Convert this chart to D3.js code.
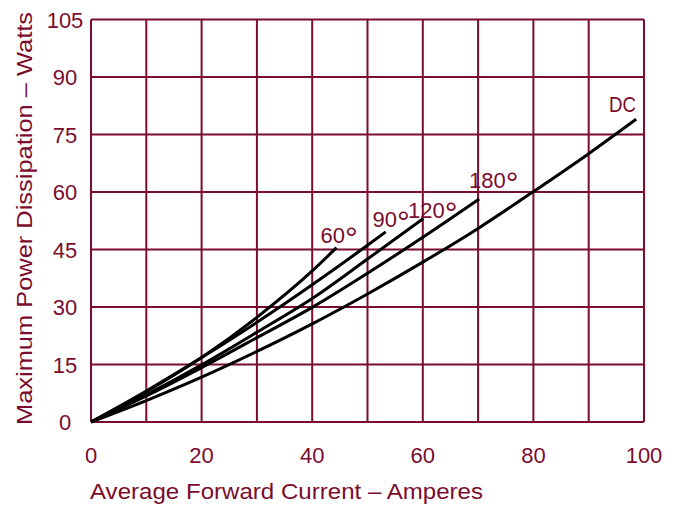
<!DOCTYPE html>
<html>
<head>
<meta charset="utf-8">
<script src="https://cdn.jsdelivr.net/npm/d3@7"></script>
<style>
  body { margin: 0; background: #ffffff; }
  svg { display: block; }
  text { font-family: "Liberation Sans", Arial, sans-serif; fill: #7b0c2d; }
</style>
</head>
<body>
<svg id="chart" width="683" height="505"></svg>
<script>
// Tick labels
const xTicks = [0, 20, 40, 60, 80, 100];
const yTicks = [0, 15, 30, 45, 60, 75, 90, 105];
const xGrid = [0, 10, 20, 30, 40, 50, 60, 70, 80, 90, 100];

// Power dissipation curves (amperes -> watts), one pair of arrays per conduction angle
const current60 = [0, 10, 20, 30, 40, 44.4];
const power60 = [0, 7.9, 16.8, 27.3, 39.4, 45.5];

const current90 = [0, 10, 20, 30, 40, 50, 53.3];
const power90 = [0, 8.1, 16.8, 26.0, 35.8, 46.1, 49.6];

const current120 = [0, 10, 20, 30, 40, 50, 60.1];
const power120 = [0, 7.1, 14.9, 23.4, 32.2, 42.5, 53.1];

const current180 = [0, 10, 20, 30, 40, 50, 60, 70.2];
const power180 = [0, 6.8, 14.2, 22.0, 29.9, 38.8, 48.2, 58.2];

const currentDC = [0, 10, 20, 30, 40, 50, 60, 70, 80, 90, 98.6];
const powerDC = [0, 5.6, 11.7, 18.4, 25.6, 33.4, 41.7, 50.5, 60.1, 70.0, 79.0];

const curveLabels = ["60°", "90°", "120°", "180°", "DC"];

const series = [
  { name: curveLabels[0], xs: current60, ys: power60 },
  { name: curveLabels[1], xs: current90, ys: power90 },
  { name: curveLabels[2], xs: current120, ys: power120 },
  { name: curveLabels[3], xs: current180, ys: power180 },
  { name: curveLabels[4], xs: currentDC, ys: powerDC }
];

const ink = "#7b0c2d";
const svg = d3.select("#chart");

const plotLeft = 91, plotRight = 644, plotTop = 19.5, plotBottom = 422;
const x = d3.scaleLinear().domain([0, 100]).range([plotLeft, plotRight]);
const y = d3.scaleLinear().domain([0, 105]).range([plotBottom, plotTop]);

// Grid
const grid = svg.append("g").attr("stroke", ink).attr("stroke-width", 2);
grid.selectAll("line.v").data(xGrid).join("line")
  .attr("class", "v")
  .attr("x1", d => x(d)).attr("x2", d => x(d))
  .attr("y1", y(0)).attr("y2", y(105));
grid.selectAll("line.h").data(yTicks).join("line")
  .attr("class", "h")
  .attr("x1", x(0)).attr("x2", x(100))
  .attr("y1", d => y(d)).attr("y2", d => y(d));

// Tick labels
svg.append("g").selectAll("text").data(xTicks).join("text")
  .attr("x", d => x(d)).attr("y", 462.5)
  .attr("text-anchor", "middle").attr("font-size", 22)
  .text(d => d);
svg.append("g").selectAll("text").data(yTicks).join("text")
  .attr("x", 65).attr("y", d => y(d) + 8)
  .attr("text-anchor", "middle").attr("font-size", 22)
  .text(d => d);

// Axis titles
svg.append("text")
  .attr("x", 90).attr("y", 499)
  .attr("font-size", 22)
  .attr("textLength", 393).attr("lengthAdjust", "spacingAndGlyphs")
  .text("Average Forward Current – Amperes");
svg.append("text")
  .attr("transform", "translate(32,425) rotate(-90)")
  .attr("font-size", 22)
  .attr("textLength", 413).attr("lengthAdjust", "spacingAndGlyphs")
  .text("Maximum Power Dissipation – Watts");

// Curves
const line = d3.line()
  .x(d => x(d[0]))
  .y(d => y(d[1]))
  .curve(d3.curveMonotoneX);

svg.append("g").selectAll("path").data(series).join("path")
  .attr("d", s => line(s.xs.map((v, i) => [v, s.ys[i]])))
  .attr("fill", "none")
  .attr("stroke", "#000")
  .attr("stroke-width", 3);

// Curve labels placed near the end of each curve; the degree mark is drawn larger
const labelPos = [
  { name: curveLabels[0], px: 320.5, py: 243, w: null },
  { name: curveLabels[1], px: 372.5, py: 226.5, w: null },
  { name: curveLabels[2], px: 408, py: 218, w: null },
  { name: curveLabels[3], px: 469, py: 188, w: null },
  { name: curveLabels[4], px: 609, py: 112, w: 27 }
];
const labels = svg.append("g").selectAll("text").data(labelPos).join("text")
  .attr("x", d => d.px).attr("y", d => d.py)
  .attr("font-size", 22);
labels.each(function (d) {
  const t = d3.select(this);
  const num = d.name.replace("°", "");
  t.append("tspan").text(num);
  if (d.name.includes("°")) {
    t.append("tspan").attr("font-size", 32).attr("dy", 6).text("°");
  }
  if (d.w) t.attr("textLength", d.w).attr("lengthAdjust", "spacingAndGlyphs");
});
</script>
</body>
</html>
